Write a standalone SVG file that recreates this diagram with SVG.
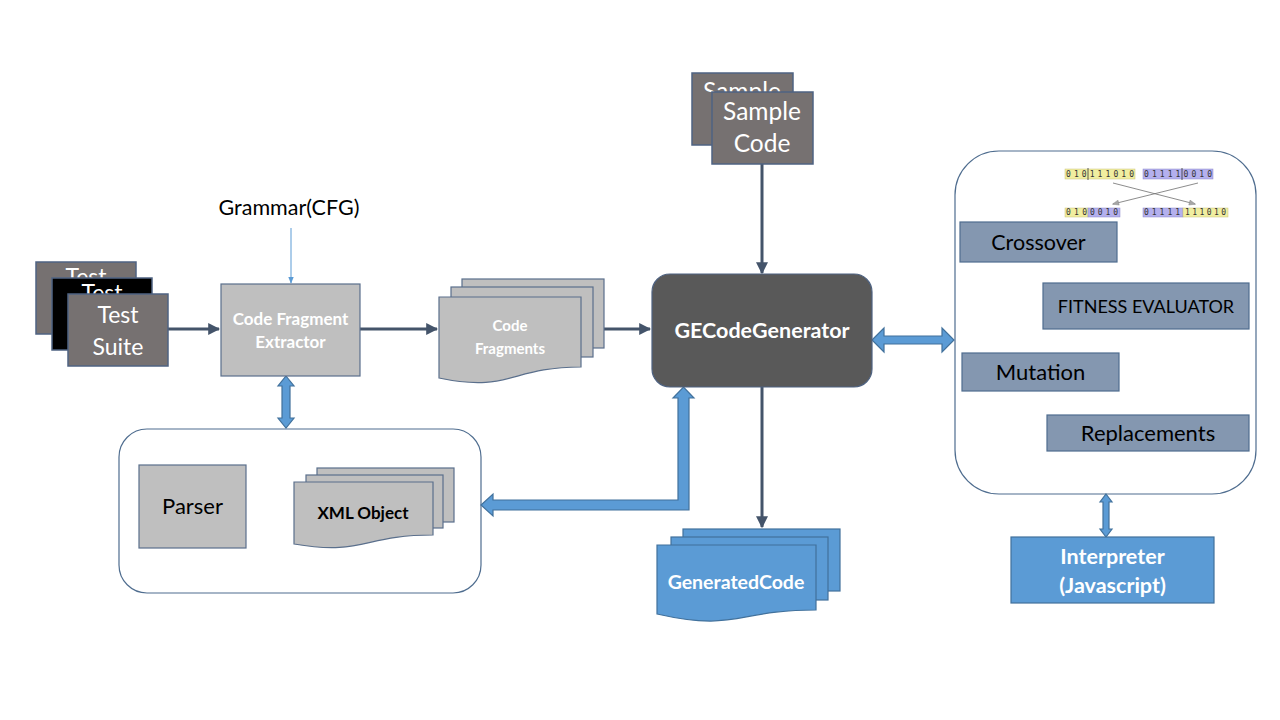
<svg xmlns="http://www.w3.org/2000/svg" width="1280" height="720" viewBox="0 0 1280 720">
<defs>
<style>
.dk{fill:#767171;stroke:#4f6382;stroke-width:1.5}
.blk{fill:#000;stroke:#4f6382;stroke-width:1.5}
.lg{fill:#bfbfbf;stroke:#5a6f8c;stroke-width:1.2}
.op{fill:#8497b0;stroke:#4f6d8f;stroke-width:1.2}
.bl{fill:#5b9bd5;stroke:#41719c;stroke-width:1.2}
.panel{fill:#fff;stroke:#4f6d8f;stroke-width:1.2}
.wt{font-family:Lato,"Open Sans","Liberation Sans",sans-serif;fill:#fff;text-anchor:middle}
.bk{font-family:Lato,"Open Sans","Liberation Sans",sans-serif;fill:#000;text-anchor:middle}
.b{font-weight:bold}
.conn{stroke:#44546a;stroke-width:3;fill:none}
.bits{font-family:"DejaVu Sans Mono","Liberation Mono",monospace;font-size:8px;fill:#333}
</style>
<clipPath id="c1"><rect x="36" y="262" width="100" height="16"/></clipPath>
<clipPath id="c2"><rect x="52" y="278" width="100" height="16"/></clipPath>
<clipPath id="c3"><rect x="692" y="73" width="101" height="19"/></clipPath>
<marker id="ah" viewBox="0 0 10 10" refX="9" refY="5" markerWidth="4" markerHeight="4" orient="auto" markerUnits="strokeWidth">
<path d="M0,0 L10,5 L0,10 z" fill="#44546a"/>
</marker>
<marker id="ahb" viewBox="0 0 10 10" refX="9" refY="5" markerWidth="7" markerHeight="7" orient="auto" markerUnits="strokeWidth">
<path d="M0,1 L10,5 L0,9 z" fill="#5b9bd5"/>
</marker>
<marker id="ahg" viewBox="0 0 10 10" refX="9" refY="5" markerWidth="10" markerHeight="8" orient="auto" markerUnits="strokeWidth">
<path d="M0,1 L10,5 L0,9 z" fill="#a6a6a6" stroke="#7f7f7f" stroke-width="0.6"/>
</marker>
</defs>
<rect width="1280" height="720" fill="#fff"/>

<g id="panel-parse">
<rect class="panel" x="119" y="429" width="362" height="164" rx="28"/>
</g>
<g id="panel-ga">
<rect class="panel" x="955" y="151" width="301" height="343" rx="44"/>
</g>

<g id="connectors">
<line class="conn" x1="168" y1="329" x2="219" y2="329" marker-end="url(#ah)"/>
<line class="conn" x1="360" y1="329" x2="437" y2="329" marker-end="url(#ah)"/>
<line class="conn" x1="604" y1="329" x2="650" y2="329" marker-end="url(#ah)"/>
<line class="conn" x1="762" y1="164" x2="762" y2="273" marker-end="url(#ah)"/>
<line class="conn" x1="762" y1="387" x2="762" y2="527" marker-end="url(#ah)"/>
<line x1="291" y1="228" x2="291" y2="283" stroke="#5b9bd5" stroke-width="1" marker-end="url(#ahb)"/>
<path class="bl" d="M286,376 L294,386 L290,386 L290,418 L294,418 L286,428 L278,418 L282,418 L282,386 L278,386 Z"/>
<path class="bl" d="M872,340 L884,328 L884,336 L942,336 L942,328 L954,340 L942,352 L942,344 L884,344 L884,352 Z"/>
<path class="bl" d="M1106,494 L1112,502 L1109,502 L1109,529 L1112,529 L1106,537 L1100,529 L1103,529 L1103,502 L1100,502 Z"/>
<path class="bl" d="M689,510 L493,510 L493,516 L481,505 L493,494 L493,500 L678,500 L678,398 L673,398 L683.5,387 L694,398 L689,398 Z"/>
</g>

<g id="test-suite">
<rect class="dk" x="36" y="262" width="100" height="72"/>
<text class="wt" x="86" y="285" font-size="23" clip-path="url(#c1)">Test</text>
<rect class="blk" x="52" y="278" width="100" height="72"/>
<text class="wt" x="102" y="301" font-size="23" clip-path="url(#c2)">Test</text>
<rect class="dk" x="68" y="294" width="100" height="72"/>
<text class="wt" x="118" y="323" font-size="23">Test</text>
<text class="wt" x="118" y="355" font-size="23">Suite</text>
</g>

<g id="grammar">
<text class="bk" x="289" y="215" font-size="21.5">Grammar(CFG)</text>
</g>

<g id="extractor">
<rect class="lg" x="221" y="284" width="139" height="92"/>
<text class="wt b" x="290.5" y="325" font-size="17">Code Fragment</text>
<text class="wt b" x="290.5" y="348" font-size="17">Extractor</text>
</g>

<g id="code-fragments">
<rect class="lg" x="462" y="279" width="142" height="69"/>
<rect class="lg" x="451" y="287" width="142" height="70"/>
<path class="lg" d="M439,297 H581 V367 C510,367 510,393 439,378 Z"/>
<text class="wt b" x="510" y="331" font-size="15">Code</text>
<text class="wt b" x="510" y="354" font-size="15">Fragments</text>
</g>

<g id="sample-code">
<rect class="dk" x="692" y="73" width="101" height="72"/>
<text class="wt" x="742" y="100" font-size="24.5" clip-path="url(#c3)">Sample</text>
<rect class="dk" x="712" y="92" width="101" height="72"/>
<text class="wt" x="762" y="120" font-size="24.5">Sample</text>
<text class="wt" x="762" y="152" font-size="24.5">Code</text>
</g>

<g id="ge-code-generator">
<rect x="652" y="274" width="220" height="113" rx="18" fill="#595959" stroke="#4f6382" stroke-width="1.2"/>
<text class="wt b" x="762" y="338" font-size="21.5">GECodeGenerator</text>
</g>

<g id="generated-code">
<rect class="bl" x="683" y="529" width="157" height="62"/>
<rect class="bl" x="671" y="537" width="157" height="63"/>
<path class="bl" d="M657,545 H816 V610 C736,610 736,632 657,614 Z"/>
<text class="wt b" x="736" y="589" font-size="19.5">GeneratedCode</text>
</g>

<g id="parser">
<rect class="lg" x="139" y="465" width="107" height="83"/>
<text class="bk" x="192.5" y="514" font-size="22">Parser</text>
</g>

<g id="xml-object">
<rect class="lg" x="317" y="468" width="137" height="54"/>
<rect class="lg" x="306" y="475" width="137" height="53"/>
<path class="lg" d="M294,482 H433 V535 C363,535 363,556 294,544 Z"/>
<text class="bk b" x="363" y="519" font-size="17">XML Object</text>
</g>

<g id="crossover-illustration">
<rect x="1065" y="169" width="70" height="10" fill="#f0eea0" stroke="#c9c27a" stroke-width="0.5"/>
<text class="bits" x="1066" y="177" textLength="68" lengthAdjust="spacing">010111010</text>
<line x1="1088" y1="168" x2="1088" y2="180" stroke="#333" stroke-width="0.8"/>
<rect x="1143" y="169" width="70" height="10" fill="#b4b0ee" stroke="#8a86c9" stroke-width="0.5"/>
<text class="bits" x="1144" y="177" textLength="68" lengthAdjust="spacing">011110010</text>
<line x1="1182" y1="168" x2="1182" y2="180" stroke="#333" stroke-width="0.8"/>
<line x1="1113" y1="183" x2="1195" y2="204" stroke="#6f6f6f" stroke-width="0.8" marker-end="url(#ahg)"/>
<line x1="1198" y1="183" x2="1113" y2="204" stroke="#6f6f6f" stroke-width="0.8" marker-end="url(#ahg)"/>
<rect x="1065" y="208" width="23" height="9" fill="#f0eea0" stroke="#c9c27a" stroke-width="0.5"/>
<text class="bits" x="1066" y="215" textLength="21" lengthAdjust="spacing">010</text>
<rect x="1088" y="208" width="32" height="9" fill="#b4b0ee" stroke="#8a86c9" stroke-width="0.5"/>
<text class="bits" x="1090" y="215" textLength="28" lengthAdjust="spacing">0010</text>
<rect x="1143" y="208" width="40" height="9" fill="#b4b0ee" stroke="#8a86c9" stroke-width="0.5"/>
<text class="bits" x="1144" y="215" textLength="36" lengthAdjust="spacing">01111</text>
<rect x="1183" y="208" width="45" height="9" fill="#f0eea0" stroke="#c9c27a" stroke-width="0.5"/>
<text class="bits" x="1185" y="215" textLength="41" lengthAdjust="spacing">111010</text>
</g>

<g id="crossover">
<rect class="op" x="960" y="222" width="157" height="40"/>
<text class="bk" x="1038.5" y="250" font-size="21.5">Crossover</text>
</g>
<g id="fitness-evaluator">
<rect class="op" x="1043" y="283" width="206" height="46"/>
<text class="bk" x="1146" y="313" font-size="18">FITNESS EVALUATOR</text>
</g>
<g id="mutation">
<rect class="op" x="962" y="353" width="157" height="38"/>
<text class="bk" x="1040.5" y="380" font-size="22">Mutation</text>
</g>
<g id="replacements">
<rect class="op" x="1047" y="415" width="202" height="36"/>
<text class="bk" x="1148" y="441" font-size="22">Replacements</text>
</g>

<g id="interpreter">
<rect class="bl" x="1011" y="537" width="203" height="66"/>
<text class="wt b" x="1112.5" y="564" font-size="21.5">Interpreter</text>
<text class="wt b" x="1112.5" y="593" font-size="21.5">(Javascript)</text>
</g>
</svg>
